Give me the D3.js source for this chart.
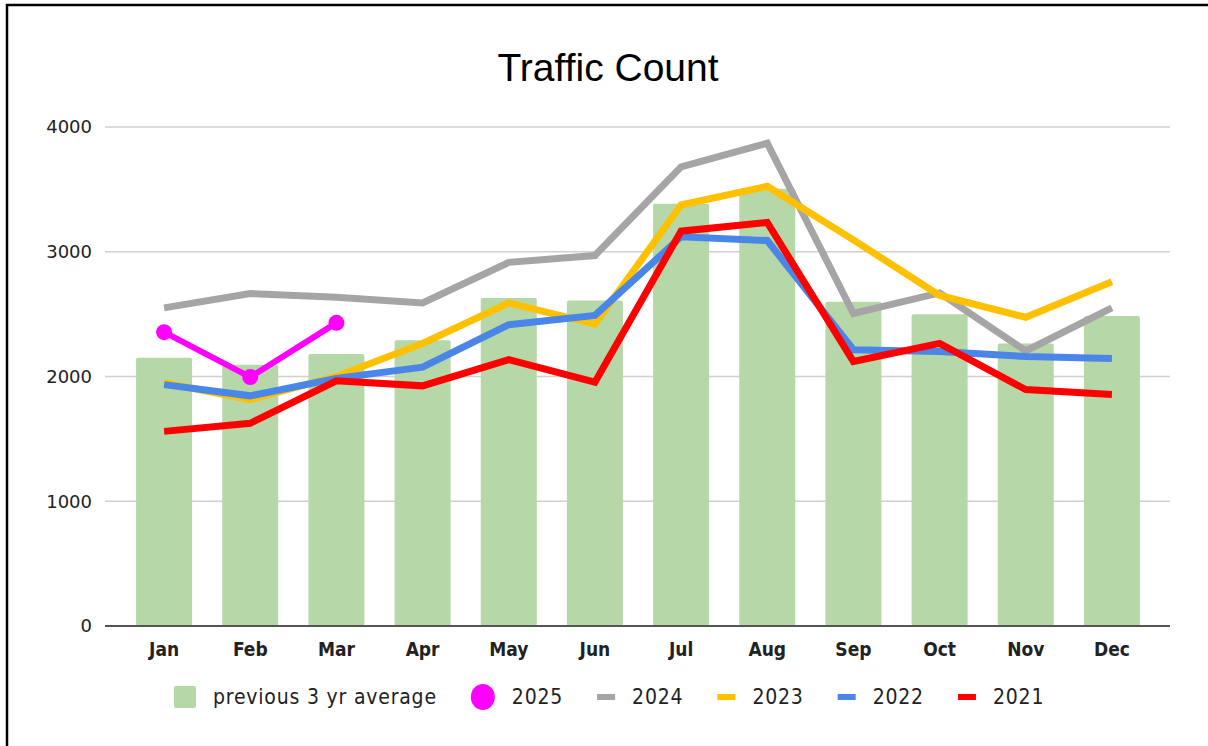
<!DOCTYPE html>
<html lang="en">
<head>
  <meta charset="UTF-8">
  <title>Traffic Count</title>
  <script src="https://cdn.jsdelivr.net/npm/d3@7"></script>
  <style>
    html, body { margin: 0; padding: 0; background: #fff; overflow: hidden; }
    svg { display: block; }
  </style>
</head>
<body>
  <script>
    // ------------- Data -------------
    const months = ["Jan", "Feb", "Mar", "Apr", "May", "Jun", "Jul", "Aug", "Sep", "Oct", "Nov", "Dec"];
    const avg3yr = [2150, 2095, 2180, 2290, 2630, 2610, 3385, 3505, 2600, 2500, 2265, 2485];
    const y2025 = [2355, 1995, 2430];
    const y2024 = [2550, 2665, 2635, 2590, 2915, 2970, 3680, 3870, 2505, 2670, 2205, 2550];
    const y2023 = [1950, 1815, 2000, 2265, 2590, 2420, 3375, 3525, 3095, 2650, 2475, 2760];
    const y2022 = [1935, 1845, 1985, 2075, 2415, 2490, 3120, 3090, 2215, 2200, 2160, 2145];
    const y2021 = [1560, 1625, 1965, 1925, 2135, 1955, 3165, 3235, 2120, 2265, 1895, 1855];
    const yTicks = [0, 1000, 2000, 3000, 4000];

    const lineSeries = [
      { name: "2024", values: y2024, color: "#a5a5a5" },
      { name: "2023", values: y2023, color: "#ffc000" },
      { name: "2022", values: y2022, color: "#4a86e8" },
      { name: "2021", values: y2021, color: "#ff0000" }
    ];

    // ------------- Layout -------------
    const width = 1208, height = 746;
    const gridLeft = 105, gridRight = 1170;
    const plotTop = 127, plotBottom = 626;

    const svg = d3.select("body").append("svg")
      .attr("width", width)
      .attr("height", height);

    // frame (only top/left edges show in the reference)
    svg.append("rect")
      .attr("x", 7).attr("y", 5)
      .attr("width", width + 40).attr("height", height + 40)
      .attr("fill", "#fff")
      .attr("stroke", "#000")
      .attr("stroke-width", 2.5);

    const x = d3.scaleBand()
      .domain(months)
      .range([121, 1155])
      .paddingInner(0.35)
      .paddingOuter(0.175);

    const y = d3.scaleLinear()
      .domain([0, 4000])
      .range([plotBottom, plotTop]);

    const cx = m => x(m) + x.bandwidth() / 2;

    // ------------- Title -------------
    svg.append("text")
      .attr("x", 608).attr("y", 81)
      .attr("text-anchor", "middle")
      .style("font-family", "'Liberation Sans', Arial, sans-serif")
      .style("font-size", "39px")
      .attr("fill", "#000")
      .text("Traffic Count");

    // ------------- Gridlines + y labels -------------
    svg.append("g")
      .selectAll("line")
      .data(yTicks.filter(d => d > 0))
      .join("line")
      .attr("x1", gridLeft).attr("x2", gridRight)
      .attr("y1", d => y(d)).attr("y2", d => y(d))
      .attr("stroke", "#d0d0d0")
      .attr("stroke-width", 1.3);

    svg.append("g")
      .selectAll("text")
      .data(yTicks)
      .join("text")
      .attr("x", 92)
      .attr("y", d => y(d))
      .attr("dy", "0.36em")
      .attr("text-anchor", "end")
      .style("font-family", "'DejaVu Sans', sans-serif")
      .style("font-size", "18px")
      .attr("fill", "#222")
      .text(d => d);

    // ------------- Bars -------------
    svg.append("g")
      .selectAll("rect")
      .data(months.map((m, i) => ({ m, v: avg3yr[i] })))
      .join("rect")
      .attr("x", d => x(d.m))
      .attr("y", d => y(d.v))
      .attr("width", x.bandwidth())
      .attr("height", d => y(0) - y(d.v))
      .attr("rx", 2)
      .attr("fill", "#b6d7a8");

    // baseline
    svg.append("line")
      .attr("x1", gridLeft).attr("x2", gridRight)
      .attr("y1", y(0)).attr("y2", y(0))
      .attr("stroke", "#555")
      .attr("stroke-width", 2);

    // ------------- Lines -------------
    const lineGen = d3.line()
      .x((d, i) => cx(months[i]))
      .y(d => y(d));

    svg.append("g")
      .selectAll("path")
      .data(lineSeries)
      .join("path")
      .attr("d", d => lineGen(d.values))
      .attr("fill", "none")
      .attr("stroke", d => d.color)
      .attr("stroke-width", 7)
      .attr("stroke-linejoin", "miter");

    // 2025 series with dots
    svg.append("path")
      .attr("d", lineGen(y2025))
      .attr("fill", "none")
      .attr("stroke", "#ff00ff")
      .attr("stroke-width", 6);
    svg.append("g")
      .selectAll("circle")
      .data(y2025)
      .join("circle")
      .attr("cx", (d, i) => cx(months[i]))
      .attr("cy", d => y(d))
      .attr("r", 8)
      .attr("fill", "#ff00ff");

    // ------------- X axis labels -------------
    svg.append("g")
      .selectAll("text")
      .data(months)
      .join("text")
      .attr("x", d => cx(d))
      .attr("y", 656)
      .attr("text-anchor", "middle")
      .style("font-family", "'DejaVu Sans Condensed', 'DejaVu Sans', sans-serif")
      .style("font-weight", "bold")
      .style("font-size", "19px")
      .attr("fill", "#222")
      .text(d => d);

    // ------------- Legend -------------
    const legendItems = [
      { name: "previous 3 yr average", color: "#b6d7a8", type: "rect" },
      { name: "2025", color: "#ff00ff", type: "dot" },
      ...lineSeries.map(s => ({ name: s.name, color: s.color, type: "line" }))
    ];
    const legend = svg.append("g").attr("transform", "translate(174,0)");
    const legendY = 697;
    let lx = 0;
    legendItems.forEach(it => {
      const g = legend.append("g");
      if (it.type === "rect") {
        g.append("rect").attr("x", lx).attr("y", legendY - 11)
          .attr("width", 22).attr("height", 22).attr("rx", 2).attr("fill", it.color);
        lx += 22;
      } else if (it.type === "dot") {
        g.append("ellipse").attr("cx", lx + 12).attr("cy", legendY)
          .attr("rx", 12).attr("ry", 13).attr("fill", it.color);
        lx += 24;
      } else {
        g.append("rect").attr("x", lx).attr("y", legendY - 3)
          .attr("width", 18).attr("height", 6).attr("fill", it.color);
        lx += 18;
      }
      const t = g.append("text")
        .attr("x", lx + 17)
        .attr("y", legendY)
        .attr("dy", "0.35em")
        .style("font-family", "'DejaVu Sans Condensed', 'DejaVu Sans', sans-serif")
        .style("font-size", "21px")
        .style("letter-spacing", "0.8px")
        .attr("fill", "#222")
        .text(it.name);
      lx += 17 + t.node().getComputedTextLength() + 34;
    });
  </script>
</body>
</html>
